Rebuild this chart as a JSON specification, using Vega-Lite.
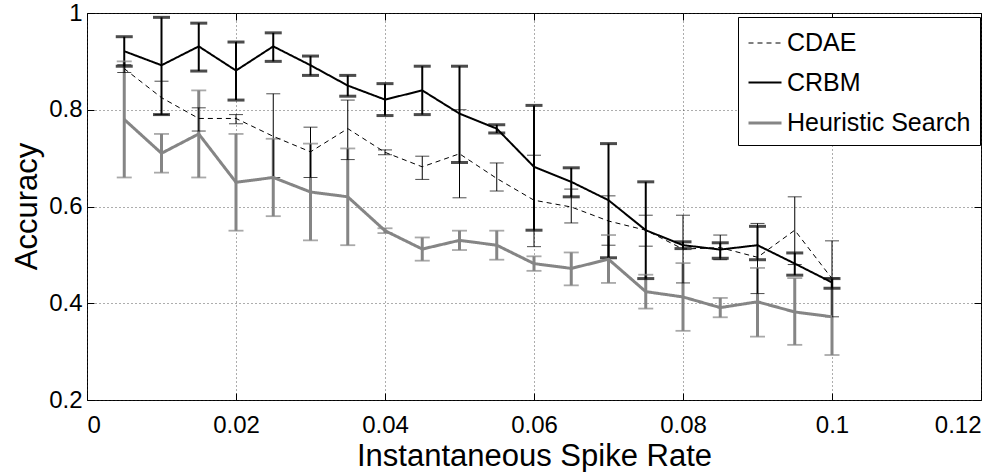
{
  "$schema": "https://vega.github.io/schema/vega-lite/v6.json",
  "width": 894,
  "height": 387,
  "autosize": {"type": "none"},
  "padding": {"left": 87, "top": 13, "right": 27, "bottom": 72},
  "background": "white",
  "config": {
    "view": {"stroke": "black", "strokeWidth": 1},
    "font": "Liberation Sans",
    "axis": {
      "labelFont": "Liberation Sans",
      "labelFontSize": 24,
      "labelColor": "black",
      "titleFont": "Liberation Sans",
      "titleFontSize": 31,
      "titleFontWeight": "normal",
      "titleColor": "black",
      "tickColor": "black",
      "tickWidth": 1,
      "domain": false,
      "gridColor": "#333",
      "gridDash": [1, 3],
      "gridWidth": 1,
      "gridOpacity": 0.8
    }
  },
  "data": {
    "values": [
      {"x": 0.005, "series": "Heuristic Search", "mean": 0.78, "lo": 0.66, "hi": 0.90},
      {"x": 0.010, "series": "Heuristic Search", "mean": 0.71, "lo": 0.67, "hi": 0.75},
      {"x": 0.015, "series": "Heuristic Search", "mean": 0.75, "lo": 0.66, "hi": 0.84},
      {"x": 0.020, "series": "Heuristic Search", "mean": 0.65, "lo": 0.55, "hi": 0.75},
      {"x": 0.025, "series": "Heuristic Search", "mean": 0.66, "lo": 0.58, "hi": 0.74},
      {"x": 0.030, "series": "Heuristic Search", "mean": 0.63, "lo": 0.53, "hi": 0.73},
      {"x": 0.035, "series": "Heuristic Search", "mean": 0.62, "lo": 0.52, "hi": 0.72},
      {"x": 0.040, "series": "Heuristic Search", "mean": 0.55, "lo": 0.545, "hi": 0.555},
      {"x": 0.045, "series": "Heuristic Search", "mean": 0.512, "lo": 0.488, "hi": 0.536},
      {"x": 0.050, "series": "Heuristic Search", "mean": 0.53, "lo": 0.51, "hi": 0.55},
      {"x": 0.055, "series": "Heuristic Search", "mean": 0.52, "lo": 0.49, "hi": 0.55},
      {"x": 0.060, "series": "Heuristic Search", "mean": 0.482, "lo": 0.467, "hi": 0.497},
      {"x": 0.065, "series": "Heuristic Search", "mean": 0.472, "lo": 0.437, "hi": 0.505},
      {"x": 0.070, "series": "Heuristic Search", "mean": 0.491, "lo": 0.442, "hi": 0.541},
      {"x": 0.075, "series": "Heuristic Search", "mean": 0.424, "lo": 0.389, "hi": 0.459},
      {"x": 0.080, "series": "Heuristic Search", "mean": 0.413, "lo": 0.343, "hi": 0.483},
      {"x": 0.085, "series": "Heuristic Search", "mean": 0.391, "lo": 0.371, "hi": 0.411},
      {"x": 0.090, "series": "Heuristic Search", "mean": 0.403, "lo": 0.331, "hi": 0.473},
      {"x": 0.095, "series": "Heuristic Search", "mean": 0.382, "lo": 0.314, "hi": 0.452},
      {"x": 0.100, "series": "Heuristic Search", "mean": 0.372, "lo": 0.293, "hi": 0.452},
      {"x": 0.005, "series": "CDAE", "mean": 0.885, "lo": 0.877, "hi": 0.893},
      {"x": 0.010, "series": "CDAE", "mean": 0.825, "lo": 0.79, "hi": 0.859},
      {"x": 0.015, "series": "CDAE", "mean": 0.782, "lo": 0.756, "hi": 0.804},
      {"x": 0.020, "series": "CDAE", "mean": 0.782, "lo": 0.771, "hi": 0.79},
      {"x": 0.025, "series": "CDAE", "mean": 0.745, "lo": 0.66, "hi": 0.833},
      {"x": 0.030, "series": "CDAE", "mean": 0.713, "lo": 0.66, "hi": 0.764},
      {"x": 0.035, "series": "CDAE", "mean": 0.761, "lo": 0.697, "hi": 0.82},
      {"x": 0.040, "series": "CDAE", "mean": 0.712, "lo": 0.707, "hi": 0.717},
      {"x": 0.045, "series": "CDAE", "mean": 0.682, "lo": 0.656, "hi": 0.704},
      {"x": 0.050, "series": "CDAE", "mean": 0.709, "lo": 0.618, "hi": 0.80},
      {"x": 0.055, "series": "CDAE", "mean": 0.658, "lo": 0.632, "hi": 0.69},
      {"x": 0.060, "series": "CDAE", "mean": 0.613, "lo": 0.517, "hi": 0.706},
      {"x": 0.065, "series": "CDAE", "mean": 0.599, "lo": 0.566, "hi": 0.636},
      {"x": 0.070, "series": "CDAE", "mean": 0.57, "lo": 0.52, "hi": 0.622},
      {"x": 0.075, "series": "CDAE", "mean": 0.551, "lo": 0.518, "hi": 0.582},
      {"x": 0.080, "series": "CDAE", "mean": 0.512, "lo": 0.442, "hi": 0.582},
      {"x": 0.085, "series": "CDAE", "mean": 0.515, "lo": 0.49, "hi": 0.541},
      {"x": 0.090, "series": "CDAE", "mean": 0.495, "lo": 0.42, "hi": 0.565},
      {"x": 0.095, "series": "CDAE", "mean": 0.551, "lo": 0.48, "hi": 0.62},
      {"x": 0.100, "series": "CDAE", "mean": 0.451, "lo": 0.372, "hi": 0.529},
      {"x": 0.005, "series": "CRBM", "mean": 0.921, "lo": 0.89, "hi": 0.951},
      {"x": 0.010, "series": "CRBM", "mean": 0.892, "lo": 0.79, "hi": 0.991},
      {"x": 0.015, "series": "CRBM", "mean": 0.931, "lo": 0.88, "hi": 0.979},
      {"x": 0.020, "series": "CRBM", "mean": 0.881, "lo": 0.82, "hi": 0.94},
      {"x": 0.025, "series": "CRBM", "mean": 0.931, "lo": 0.90, "hi": 0.959},
      {"x": 0.030, "series": "CRBM", "mean": 0.892, "lo": 0.871, "hi": 0.911},
      {"x": 0.035, "series": "CRBM", "mean": 0.85, "lo": 0.828, "hi": 0.871},
      {"x": 0.040, "series": "CRBM", "mean": 0.821, "lo": 0.788, "hi": 0.854},
      {"x": 0.045, "series": "CRBM", "mean": 0.84, "lo": 0.79, "hi": 0.89},
      {"x": 0.050, "series": "CRBM", "mean": 0.792, "lo": 0.691, "hi": 0.89},
      {"x": 0.055, "series": "CRBM", "mean": 0.761, "lo": 0.752, "hi": 0.769},
      {"x": 0.060, "series": "CRBM", "mean": 0.682, "lo": 0.551, "hi": 0.809},
      {"x": 0.065, "series": "CRBM", "mean": 0.651, "lo": 0.62, "hi": 0.68},
      {"x": 0.070, "series": "CRBM", "mean": 0.613, "lo": 0.494, "hi": 0.73},
      {"x": 0.075, "series": "CRBM", "mean": 0.551, "lo": 0.451, "hi": 0.651},
      {"x": 0.080, "series": "CRBM", "mean": 0.52, "lo": 0.513, "hi": 0.527},
      {"x": 0.085, "series": "CRBM", "mean": 0.511, "lo": 0.493, "hi": 0.525},
      {"x": 0.090, "series": "CRBM", "mean": 0.52, "lo": 0.49, "hi": 0.559},
      {"x": 0.095, "series": "CRBM", "mean": 0.482, "lo": 0.458, "hi": 0.504},
      {"x": 0.100, "series": "CRBM", "mean": 0.443, "lo": 0.431, "hi": 0.451}
    ]
  },
  "layer": [
    {
      "layer": [
        {
          "mark": {"type": "rule"},
          "encoding": {
            "x": {
              "field": "x", "type": "quantitative",
              "scale": {"domain": [0, 0.12], "nice": false, "zero": false},
              "axis": {
                "values": [0, 0.02, 0.04, 0.06, 0.08, 0.1, 0.12],
                "format": "~g",
                "title": "Instantaneous Spike Rate",
                "grid": true,
                "tickSize": -7,
                "labelPadding": 20,
                "titleBaseline": "alphabetic",
                "titleX": 447,
                "titleY": 65,
                "titleAlign": "center"
              }
            },
            "y": {
              "field": "lo", "type": "quantitative",
              "scale": {"domain": [0.2, 1], "nice": false, "zero": false},
              "axis": {
                "values": [0.2, 0.4, 0.6, 0.8, 1],
                "format": "~g",
                "title": "Accuracy",
                "grid": true,
                "tickSize": -7,
                "labelPadding": 12,
                "titleBaseline": "alphabetic",
                "titleAngle": -90,
                "titleX": -51,
                "titleY": 193,
                "titleAlign": "center"
              }
            },
            "y2": {"field": "hi"},
            "color": {
              "field": "series", "type": "nominal",
              "scale": {"domain": ["CDAE", "CRBM", "Heuristic Search"], "range": ["black", "black", "#858585"]}
            },
            "strokeWidth": {
              "field": "series", "type": "nominal",
              "scale": {"domain": ["CDAE", "CRBM", "Heuristic Search"], "range": [1, 3, 1.8]}
            }
          }
        },
        {
          "transform": [{"filter": "datum.series === 'Heuristic Search'"}, {"fold": ["lo", "hi"], "as": ["end", "val"]}],
          "mark": {"type": "tick", "orient": "horizontal", "thickness": 1.8, "size": 15, "color": "#858585"},
          "encoding": {
            "x": {"field": "x", "type": "quantitative"},
            "y": {"field": "val", "type": "quantitative"}
          }
        },
        {
          "transform": [{"filter": "datum.series === 'CDAE'"}, {"fold": ["lo", "hi"], "as": ["end", "val"]}],
          "mark": {"type": "tick", "orient": "horizontal", "thickness": 1, "size": 14, "color": "black"},
          "encoding": {
            "x": {"field": "x", "type": "quantitative"},
            "y": {"field": "val", "type": "quantitative"}
          }
        },
        {
          "transform": [{"filter": "datum.series === 'CRBM'"}, {"fold": ["lo", "hi"], "as": ["end", "val"]}],
          "mark": {"type": "tick", "orient": "horizontal", "thickness": 3, "size": 17, "color": "black"},
          "encoding": {
            "x": {"field": "x", "type": "quantitative"},
            "y": {"field": "val", "type": "quantitative"}
          }
        },
        {
          "mark": {"type": "line"},
          "encoding": {
            "x": {"field": "x", "type": "quantitative"},
            "y": {"field": "mean", "type": "quantitative"},
            "color": {
              "field": "series", "type": "nominal",
              "scale": {"domain": ["CDAE", "CRBM", "Heuristic Search"], "range": ["black", "black", "#858585"]},
              "legend": {
                "title": null,
                "orient": "none",
                "legendX": 651,
                "legendY": 4,
                "labelFont": "Liberation Sans",
                "labelFontSize": 25,
                "labelColor": "black",
                "labelLimit": 400,
                "labelOffset": 4,
                "symbolType": "stroke",
                "symbolSize": 1089,
                "padding": 9,
                "rowPadding": 9,
                "strokeColor": "black",
                "fillColor": "white"
              }
            },
            "strokeDash": {
              "field": "series", "type": "nominal",
              "scale": {"domain": ["CDAE", "CRBM", "Heuristic Search"], "range": [[5, 4], [1, 0], [1, 0]]}
            },
            "strokeWidth": {
              "field": "series", "type": "nominal",
              "scale": {"domain": ["CDAE", "CRBM", "Heuristic Search"], "range": [1, 3, 1.8]}
            }
          }
        }
      ]
    },
    {
      "mark": {"type": "point", "opacity": 0},
      "encoding": {
        "x": {
          "field": "x", "type": "quantitative",
          "axis": {"orient": "top", "values": [0, 0.02, 0.04, 0.06, 0.08, 0.1, 0.12], "labels": false, "title": null, "grid": false, "tickSize": -7}
        },
        "y": {
          "field": "mean", "type": "quantitative",
          "axis": {"orient": "right", "values": [0.2, 0.4, 0.6, 0.8, 1], "labels": false, "title": null, "grid": false, "tickSize": -7}
        }
      }
    }
  ],
  "resolve": {"axis": {"x": "independent", "y": "independent"}}
}
